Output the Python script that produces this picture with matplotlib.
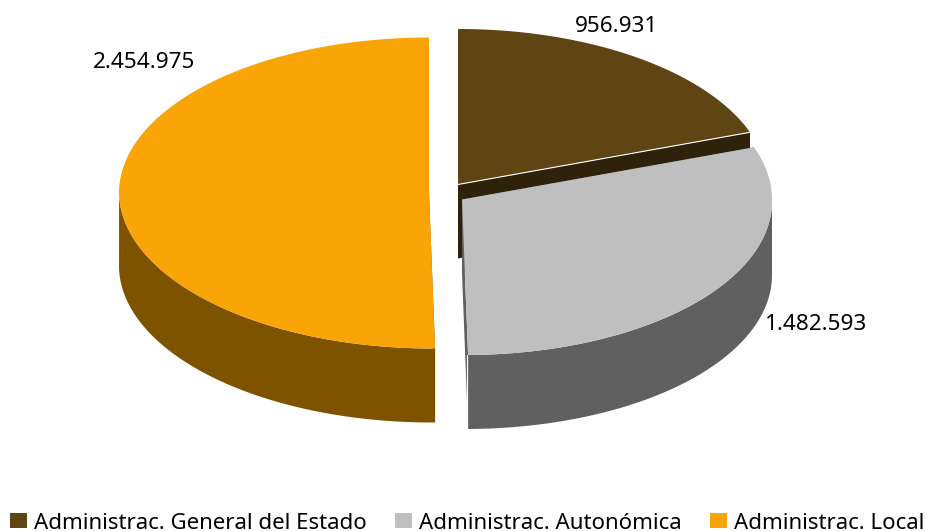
import numpy as np
import matplotlib
matplotlib.use('Agg')
import matplotlib.pyplot as plt
from matplotlib.patches import Polygon, Patch

# Pie chart in fake 3D, drawn in pixel coordinates
categorias = ['Administrac. General del Estado', 'Administrac. Autonómica', 'Administrac. Local']
valores = [956931, 1482593, 2454975]

color_top = ['#5E4513', '#BFBFBF', '#F9A508']
color_side = ['#2E220A', '#606060', '#7E5300']

# layout of the exploded slices
centros = [(458, 184.5), (462, 199.5), (429, 193)]
rx, ry, alto = 310, 155.5, 74
label_pos = [(617, 27), (816, 325), (144.5, 62)]

frac = np.array(valores) / sum(valores)
lim = np.concatenate(([0], np.cumsum(frac))) * 2 * np.pi


def borde(c, t):
    # points on the rim, lower half leans a little to the right
    x = c[0] + rx * np.sin(t) + 3 * np.maximum(0, -np.cos(t))
    y = c[1] - ry * np.cos(t)
    return np.column_stack((x, y))


plt.rcParams['font.family'] = ['Noto Sans', 'DejaVu Sans']
fig = plt.figure(figsize=(9.27, 5.31), dpi=100)
ax = fig.add_axes([0, 0, 1, 1])
ax.set_xlim(0, 927)
ax.set_ylim(531, 0)
ax.axis('off')

for i in range(len(valores)):
    c = centros[i]
    t = np.linspace(lim[i], lim[i + 1], 200)
    arco = borde(c, t)

    # flat cut faces
    for p in (arco[0], arco[-1]):
        cara = [c, p, p + [0, alto], (c[0], c[1] + alto)]
        ax.add_patch(Polygon(cara, fc=color_side[i], ec='none', zorder=1 + i))

    # outer wall, only the part that faces the viewer
    t2 = t[(t > np.pi / 2) & (t < 3 * np.pi / 2)]
    if len(t2) > 0:
        a2 = borde(c, t2)
        pared = np.vstack((a2, a2[::-1] + [0, alto]))
        ax.add_patch(Polygon(pared, fc=color_side[i], ec='none', zorder=1 + i))

    ax.add_patch(Polygon(np.vstack(([c], arco)), fc=color_top[i], ec='none', zorder=1.5 + i))

# white hairlines on the slice edges
p = borde(centros[0], lim[1:2])[0]
ax.plot([centros[0][0], p[0]], [centros[0][1], p[1]], color='white', lw=0.8, zorder=2)
p = borde(centros[1], lim[2:3])[0]
ax.plot([p[0] - 1, p[0] - 1], [p[1], p[1] + alto], color='white', lw=0.8, zorder=3)

for v, pos in zip(valores, label_pos):
    ax.text(pos[0], pos[1], f'{v:,}'.replace(',', '.'), ha='center', va='center', fontsize=16.2, color='black')

handles = [Patch(fc=col, ec='none') for col in color_top]
fig.legend(handles, categorias, ncol=3, loc='lower left', bbox_to_anchor=(10 / 927, -0.005),
           frameon=False, fontsize=16, borderpad=0, borderaxespad=0,
           handlelength=0.77, handleheight=0.68, handletextpad=0.3, columnspacing=1.28)

fig.savefig('out.png', dpi=100)
